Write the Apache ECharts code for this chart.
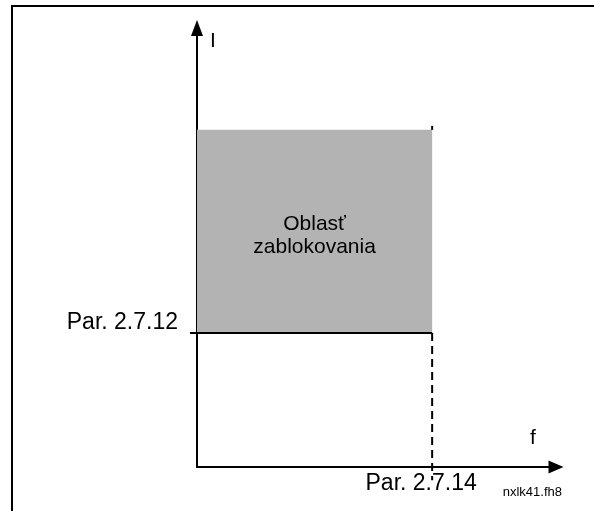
<!DOCTYPE html>
<html>
<head>
<meta charset="utf-8">
<script src="https://cdn.jsdelivr.net/npm/echarts@6/dist/echarts.min.js"></script>
<style>
  html, body { margin: 0; padding: 0; background: #fff; }
  #chart { width: 594px; height: 511px; }
</style>
</head>
<body>
<div id="chart"></div>
<script>
// values (axis units 0..100)
const xTickValues = [65.5]
const xTickLabels = ['Par. 2.7.14']
const yTickValues = [30.5]
const yTickLabels = ['Par. 2.7.12']
const stallRegion = [[0, 30.5], [65.5, 76.8]]
const limitLine = [[0, 30.5], [65.5, 30.5]]
const dashLine = [[65.5, 30.5], [65.5, -3]]
const edgeMark = [[65.5, 76.8], [65.5, 77.7]]

const font = "'Liberation Sans', Arial, sans-serif"
const black = '#000'

const chart = echarts.init(document.getElementById('chart'))

chart.setOption({
	animation: false,
	backgroundColor: '#fff',
	title: {
		text: 'nxlk41.fh8',
		right: 32,
		top: 486,
		padding: 0,
		textStyle: { fontFamily: font, fontSize: 13, fontWeight: 'normal', color: black },
	},
	graphic: [
		{
			type: 'rect',
			shape: { x: 12, y: 6, width: 800, height: 800 },
			style: { fill: 'none', stroke: black, lineWidth: 2 },
			silent: true,
		},
	],
	grid: { left: 197, right: 38, top: 28, bottom: 44 },
	xAxis: {
		type: 'value',
		min: 0,
		max: 100,
		name: 'f',
		nameLocation: 'end',
		nameGap: -23,
		nameTextStyle: {
			fontFamily: font, fontSize: 21, color: black,
			align: 'center', verticalAlign: 'bottom', padding: [0, 0, 18, 0],
		},
		axisLine: {
			show: true,
			onZero: false,
			symbol: ['none', 'triangle'],
			symbolSize: [13, 15],
			lineStyle: { color: black, width: 2 },
		},
		axisTick: { show: false },
		splitLine: { show: false },
		axisLabel: {
			customValues: xTickValues,
			formatter: (v) => xTickLabels[xTickValues.indexOf(v)],
			fontFamily: font,
			fontSize: 23,
			color: black,
			margin: 5,
			padding: [0, 22, 0, 0],
		},
	},
	yAxis: {
		type: 'value',
		min: 0,
		max: 100,
		name: 'I',
		nameLocation: 'end',
		nameGap: -3,
		nameTextStyle: {
			fontFamily: font, fontSize: 21, color: black,
			align: 'left', verticalAlign: 'top', padding: [0, 0, 0, 13],
		},
		axisLine: {
			show: true,
			onZero: false,
			symbol: ['none', 'triangle'],
			symbolSize: [12, 16],
			lineStyle: { color: black, width: 2 },
		},
		axisTick: {
			show: true,
			customValues: yTickValues,
			length: 7,
			lineStyle: { color: black, width: 2 },
		},
		splitLine: { show: false },
		axisLabel: {
			customValues: yTickValues,
			formatter: (v) => yTickLabels[yTickValues.indexOf(v)],
			fontFamily: font,
			fontSize: 23,
			color: black,
			margin: 19,
			verticalAlign: 'bottom',
			lineHeight: 20,
		},
	},
	series: [
		{
			name: 'limit',
			type: 'line',
			data: limitLine,
			symbol: 'none',
			lineStyle: { color: black, width: 2 },
			z: 3,
			markArea: {
				silent: true,
				itemStyle: { color: '#b3b3b3' },
				label: {
					show: true,
					position: 'inside',
					offset: [0, 4],
					formatter: 'Oblasť\nzablokovania',
					fontFamily: font,
					fontSize: 21,
					lineHeight: 23,
					color: black,
				},
				data: [[{ xAxis: stallRegion[0][0], yAxis: stallRegion[0][1] }, { xAxis: stallRegion[1][0], yAxis: stallRegion[1][1] }]],
			},
		},
		{
			name: 'freq',
			type: 'line',
			data: dashLine,
			symbol: 'none',
			clip: false,
			lineStyle: { color: black, width: 2, type: [8, 5] },
			z: 3,
		},
		{
			name: 'edge',
			type: 'line',
			data: edgeMark,
			symbol: 'none',
			clip: false,
			lineStyle: { color: black, width: 2 },
			z: 3,
		},
	],
})
</script>
</body>
</html>
